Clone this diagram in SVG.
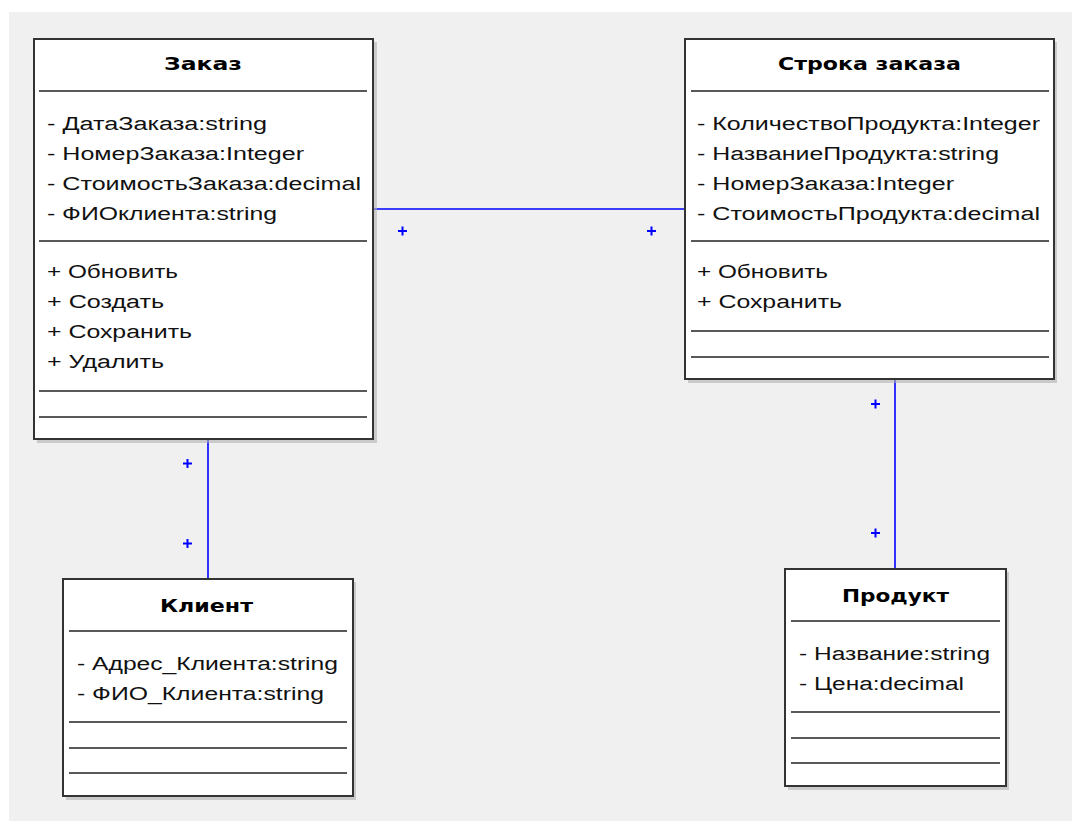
<svg xmlns="http://www.w3.org/2000/svg" width="1072" height="821" viewBox="0 0 1072 821">
<style>
.box{fill:#fff;stroke:#333;stroke-width:2}
.shadow{fill:#b0b0b0;opacity:0.6}
.sep{stroke:#222;stroke-width:1.5}
.title{font-family:"DejaVu Sans",Verdana,sans-serif;font-weight:bold;font-size:18px;fill:#000;text-anchor:middle}
.t{font-family:"Liberation Sans",Arial,sans-serif;font-size:18px;fill:#111}
.conn{stroke:#0000ff;stroke-width:1.6;fill:none}
.plus{stroke:#0000ff;stroke-width:2}
</style>
<rect x="0" y="0" width="1072" height="821" fill="#fff"/>
<rect x="9" y="12" width="1063" height="809" fill="#f0f0f0"/>
<g id="connectors">
<line class="conn" x1="373" y1="209" x2="685" y2="209"/>
<line class="conn" x1="208" y1="439" x2="208" y2="579"/>
<line class="conn" x1="895" y1="379" x2="895" y2="569"/>
<g class="plus">
<path d="M398 231h9M402.5 226.5v9"/>
<path d="M647 231h9M651.5 226.5v9"/>
<path d="M183 463.5h9M187.5 459v9"/>
<path d="M183 543.5h9M187.5 539v9"/>
<path d="M871 404h9M875.5 399.5v9"/>
<path d="M871 533h9M875.5 528.5v9"/>
</g>
</g>
<g id="zakaz">
<rect class="shadow" x="37" y="42" width="340" height="401"/>
<rect class="box" x="34" y="39" width="339" height="400"/>
<text class="title" x="203" y="70" textLength="78" lengthAdjust="spacingAndGlyphs">Заказ</text>
<line class="sep" x1="39" y1="91" x2="367" y2="91"/>
<text class="t" x="47" y="130" textLength="220" lengthAdjust="spacingAndGlyphs">- ДатаЗаказа:string</text>
<text class="t" x="47" y="160" textLength="257" lengthAdjust="spacingAndGlyphs">- НомерЗаказа:Integer</text>
<text class="t" x="47" y="190" textLength="314" lengthAdjust="spacingAndGlyphs">- СтоимостьЗаказа:decimal</text>
<text class="t" x="47" y="220" textLength="230" lengthAdjust="spacingAndGlyphs">- ФИОклиента:string</text>
<line class="sep" x1="39" y1="241" x2="367" y2="241"/>
<text class="t" x="47" y="278" textLength="131" lengthAdjust="spacingAndGlyphs">+ Обновить</text>
<text class="t" x="47" y="308" textLength="117" lengthAdjust="spacingAndGlyphs">+ Создать</text>
<text class="t" x="47" y="338" textLength="145" lengthAdjust="spacingAndGlyphs">+ Сохранить</text>
<text class="t" x="47" y="368" textLength="117" lengthAdjust="spacingAndGlyphs">+ Удалить</text>
<line class="sep" x1="39" y1="391" x2="367" y2="391"/>
<line class="sep" x1="39" y1="417" x2="367" y2="417"/>
</g>
<g id="stroka-zakaza">
<rect class="shadow" x="688" y="42" width="369" height="341"/>
<rect class="box" x="685" y="39" width="369" height="340"/>
<text class="title" x="869.5" y="70" textLength="183" lengthAdjust="spacingAndGlyphs">Строка заказа</text>
<line class="sep" x1="691" y1="91" x2="1049" y2="91"/>
<text class="t" x="697" y="130" textLength="343" lengthAdjust="spacingAndGlyphs">- КоличествоПродукта:Integer</text>
<text class="t" x="697" y="160" textLength="302" lengthAdjust="spacingAndGlyphs">- НазваниеПродукта:string</text>
<text class="t" x="697" y="190" textLength="257" lengthAdjust="spacingAndGlyphs">- НомерЗаказа:Integer</text>
<text class="t" x="697" y="220" textLength="343" lengthAdjust="spacingAndGlyphs">- СтоимостьПродукта:decimal</text>
<line class="sep" x1="691" y1="241" x2="1049" y2="241"/>
<text class="t" x="697" y="278" textLength="131" lengthAdjust="spacingAndGlyphs">+ Обновить</text>
<text class="t" x="697" y="308" textLength="145" lengthAdjust="spacingAndGlyphs">+ Сохранить</text>
<line class="sep" x1="691" y1="331" x2="1049" y2="331"/>
<line class="sep" x1="691" y1="357" x2="1049" y2="357"/>
</g>
<g id="klient">
<rect class="shadow" x="66" y="582" width="290" height="218"/>
<rect class="box" x="63" y="579" width="290" height="217"/>
<text class="title" x="206.5" y="612" textLength="93" lengthAdjust="spacingAndGlyphs">Клиент</text>
<line class="sep" x1="69" y1="631" x2="347" y2="631"/>
<text class="t" x="77" y="670" textLength="261" lengthAdjust="spacingAndGlyphs">- Адрес_Клиента:string</text>
<text class="t" x="77" y="700" textLength="247" lengthAdjust="spacingAndGlyphs">- ФИО_Клиента:string</text>
<line class="sep" x1="69" y1="722" x2="347" y2="722"/>
<line class="sep" x1="69" y1="748" x2="347" y2="748"/>
<line class="sep" x1="69" y1="773" x2="347" y2="773"/>
</g>
<g id="produkt">
<rect class="shadow" x="788" y="572" width="221" height="218"/>
<rect class="box" x="785" y="569" width="221" height="217"/>
<text class="title" x="895.5" y="602" textLength="107" lengthAdjust="spacingAndGlyphs">Продукт</text>
<line class="sep" x1="791" y1="621" x2="1000" y2="621"/>
<text class="t" x="799" y="660" textLength="191" lengthAdjust="spacingAndGlyphs">- Название:string</text>
<text class="t" x="799" y="690" textLength="165" lengthAdjust="spacingAndGlyphs">- Цена:decimal</text>
<line class="sep" x1="791" y1="712" x2="1000" y2="712"/>
<line class="sep" x1="791" y1="738" x2="1000" y2="738"/>
<line class="sep" x1="791" y1="763" x2="1000" y2="763"/>
</g>
</svg>
